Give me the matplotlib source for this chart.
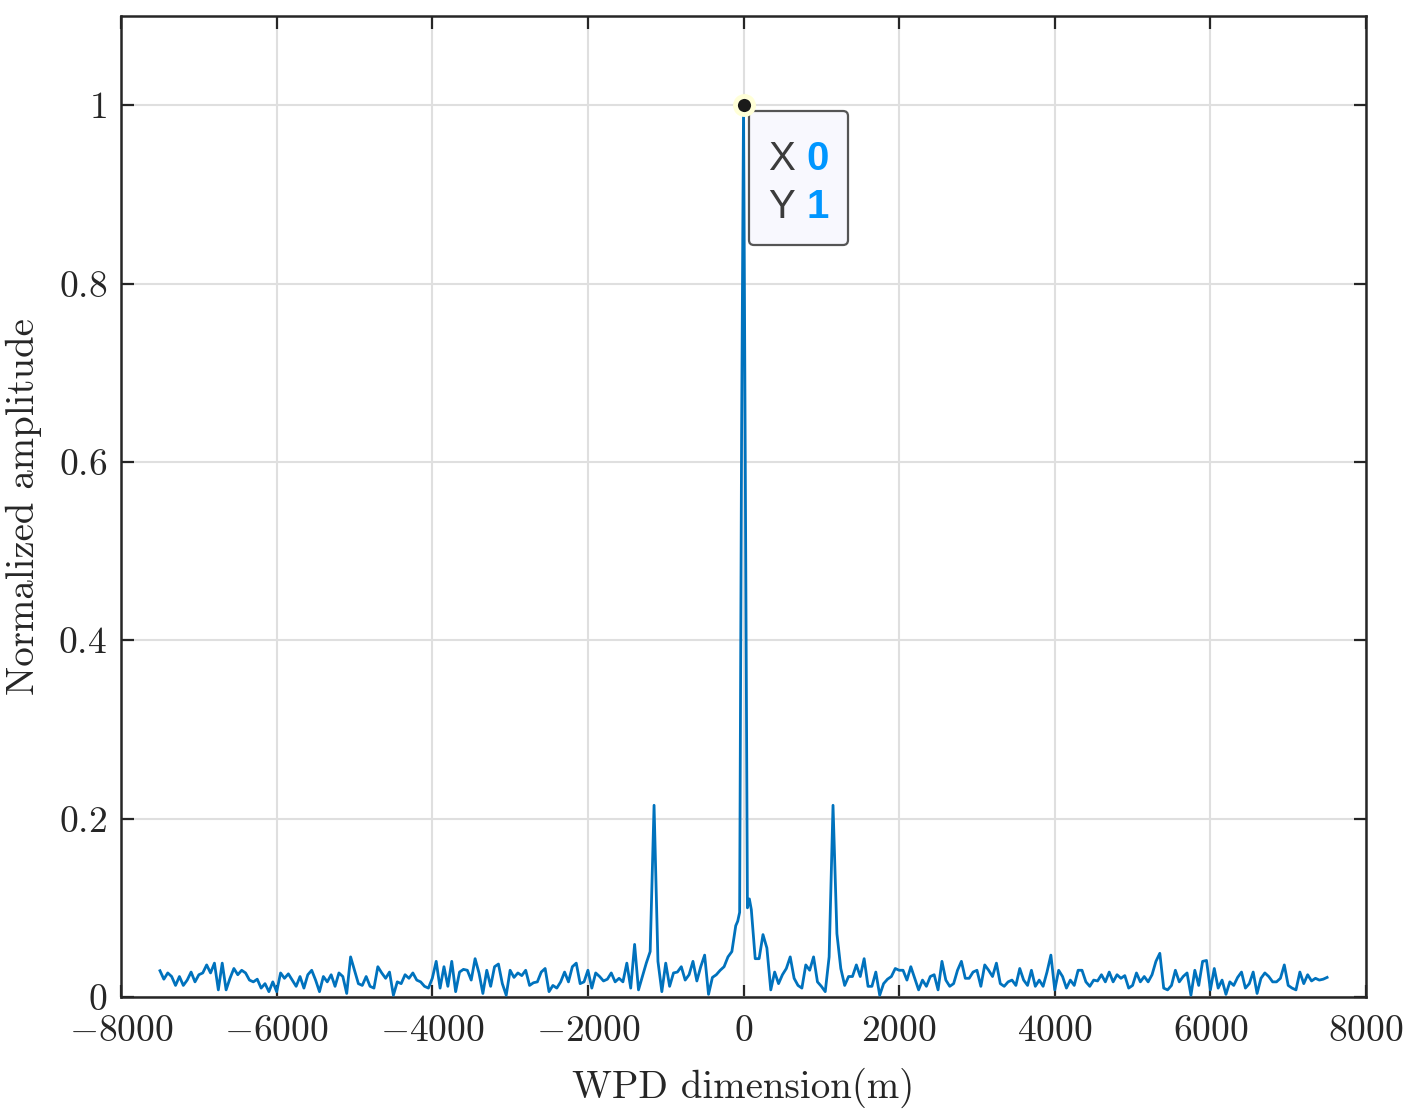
import numpy as np
import matplotlib
matplotlib.use('Agg')
import matplotlib.pyplot as plt
from matplotlib.ticker import FuncFormatter
from matplotlib.offsetbox import TextArea, HPacker, VPacker, AnnotationBbox, DrawingArea

# sampled profile, 50 m spacing on both flanks, finer near the main lobe
step = 50
left_start = -7500   # -7500 ... -100
amp_left = [
    0.0295, 0.020, 0.027, 0.023, 0.013, 0.023, 0.013, 0.019, 0.028, 0.017,
    0.025, 0.027, 0.036, 0.027, 0.038, 0.008, 0.038, 0.008, 0.021, 0.032,
    0.025, 0.030, 0.027, 0.019, 0.017, 0.020, 0.010, 0.015, 0.006, 0.017,
    0.006, 0.027, 0.021, 0.026, 0.019, 0.012, 0.023, 0.010, 0.025, 0.030,
    0.019, 0.006, 0.023, 0.017, 0.025, 0.012, 0.027, 0.023, 0.004, 0.045,
    0.030, 0.015, 0.013, 0.023, 0.012, 0.010, 0.034, 0.027, 0.021, 0.028,
    0.002, 0.017, 0.015, 0.025, 0.021, 0.027, 0.019, 0.017, 0.012, 0.010,
    0.021, 0.040, 0.010, 0.034, 0.012, 0.040, 0.006, 0.028, 0.031, 0.030,
    0.019, 0.043, 0.027, 0.004, 0.030, 0.012, 0.034, 0.037, 0.015, 0.002,
    0.030, 0.022, 0.027, 0.024, 0.030, 0.013, 0.016, 0.017, 0.028, 0.032,
    0.006, 0.013, 0.010, 0.017, 0.028, 0.017, 0.034, 0.038, 0.015, 0.017,
    0.030, 0.010, 0.027, 0.023, 0.018, 0.020, 0.027, 0.017, 0.021, 0.017,
    0.038, 0.010, 0.059, 0.008, 0.023, 0.038, 0.051, 0.215, 0.040, 0.006,
    0.038, 0.012, 0.027, 0.028, 0.034, 0.019, 0.025, 0.040, 0.018, 0.034,
    0.047, 0.003, 0.022, 0.025, 0.030, 0.034, 0.045, 0.051, 0.080,
]
dist_mid = [-75, -50, -25, 0, 25, 50, 75]
amp_mid = [0.085, 0.095, 0.63, 1.0, 0.55, 0.10, 0.11]
right_start = 100    # 100 ... 7500
amp_right = [
    0.098, 0.043, 0.043, 0.070, 0.055, 0.008, 0.028, 0.015, 0.025, 0.032,
    0.045, 0.021, 0.013, 0.010, 0.036, 0.030, 0.045, 0.017, 0.012, 0.006,
    0.045, 0.215, 0.071, 0.032, 0.013, 0.023, 0.023, 0.036, 0.023, 0.043,
    0.012, 0.012, 0.028, 0.002, 0.015, 0.020, 0.023, 0.032, 0.030, 0.030,
    0.019, 0.034, 0.021, 0.008, 0.019, 0.012, 0.023, 0.025, 0.008, 0.040,
    0.019, 0.012, 0.015, 0.030, 0.040, 0.021, 0.021, 0.028, 0.030, 0.012,
    0.036, 0.030, 0.023, 0.038, 0.015, 0.012, 0.017, 0.019, 0.013, 0.032,
    0.019, 0.013, 0.030, 0.012, 0.019, 0.012, 0.028, 0.047, 0.008, 0.030,
    0.023, 0.010, 0.019, 0.013, 0.030, 0.030, 0.017, 0.012, 0.019, 0.018,
    0.025, 0.017, 0.028, 0.017, 0.025, 0.021, 0.024, 0.010, 0.013, 0.027,
    0.017, 0.023, 0.017, 0.025, 0.040, 0.049, 0.010, 0.008, 0.013, 0.030,
    0.017, 0.023, 0.027, 0.002, 0.030, 0.013, 0.040, 0.041, 0.008, 0.032,
    0.010, 0.019, 0.003, 0.017, 0.013, 0.022, 0.028, 0.010, 0.015, 0.028,
    0.004, 0.021, 0.027, 0.023, 0.017, 0.017, 0.021, 0.036, 0.013, 0.010,
    0.008, 0.028, 0.015, 0.025, 0.018, 0.021, 0.019, 0.020, 0.022,
]
tip_x, tip_y = 0, 1

x_left = left_start + step * np.arange(len(amp_left))
x_right = right_start + step * np.arange(len(amp_right))
dist = np.concatenate([x_left, dist_mid, x_right])
amp = np.concatenate([amp_left, amp_mid, amp_right])

plt.rcParams['mathtext.fontset'] = 'cm'
plt.rcParams['font.family'] = 'serif'
plt.rcParams['font.serif'] = ['cmr10']

dark = '#262626'
fig = plt.figure(figsize=(14.21, 11.2), dpi=100)
ax = fig.add_axes([0.0852, 0.1098, 0.8761, 0.8759])

ax.plot(dist, amp, color='#0072BD', lw=2.0, zorder=3)
ax.plot([tip_x], [tip_y], 'o', ms=13, mfc='#1a1a1a', mec='#FFFFD8', mew=3.5, zorder=8)

ax.set_xlim(-8000, 8000)
ax.set_ylim(0, 1.1)
ax.set_xticks(np.arange(-8000, 8001, 2000))
ax.set_yticks([0, 0.2, 0.4, 0.6, 0.8, 1])
fmt = FuncFormatter(lambda v, p: f'${v:g}$')
ax.xaxis.set_major_formatter(fmt)
ax.yaxis.set_major_formatter(fmt)
ax.tick_params(direction='in', top=True, right=True, length=9, width=1.6,
               labelsize=27, colors=dark)
ax.tick_params(axis='x', pad=13)
ax.tick_params(axis='y', pad=10)
for s in ax.spines.values():
    s.set_linewidth(1.8)
    s.set_color(dark)
ax.grid(True, color='#DFDFDF', lw=1.5)
ax.set_axisbelow(True)

ax.set_xlabel('WPD dimension(m)', fontsize=28, color=dark, labelpad=14)
ax.set_ylabel('Normalized amplitude', fontsize=28, color=dark, labelpad=12)

# data tip
tfont = dict(family='Liberation Sans', size=29)
row1 = HPacker(children=[TextArea('X', textprops=dict(color='#3c3c3c', **tfont)),
                         TextArea('0', textprops=dict(color='#0096FF', weight='bold', **tfont))],
               sep=8, align='baseline')
row2 = HPacker(children=[TextArea('Y', textprops=dict(color='#3c3c3c', **tfont)),
                         TextArea('1', textprops=dict(color='#0096FF', weight='bold', **tfont))],
               sep=8, align='baseline')
spacer = DrawingArea(1, 0)
tip = VPacker(children=[spacer, row1, row2], sep=7, align='left', pad=0)
ab = AnnotationBbox(tip, (tip_x, tip_y), xybox=(18, -18), xycoords='data',
                    boxcoords='offset points', box_alignment=(0, 1), pad=0,
                    bboxprops=dict(boxstyle='round,pad=1.4,rounding_size=0.35',
                                   fc='#F8F8FE', ec='#555555', lw=1.6),
                    zorder=6)
ax.add_artist(ab)

fig.savefig('out.png', dpi=100)
